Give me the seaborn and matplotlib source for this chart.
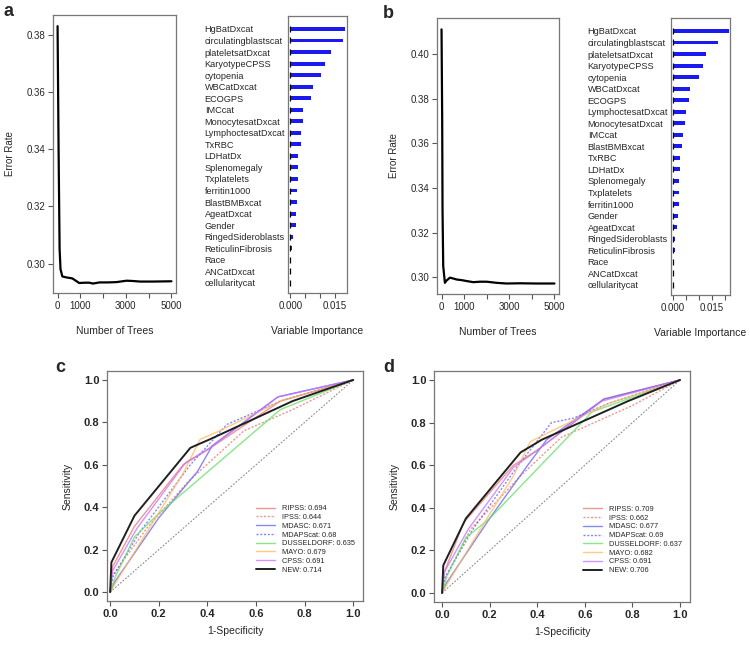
import numpy as np
import pandas as pd
import seaborn as sns
import matplotlib
matplotlib.use("Agg")
import matplotlib.pyplot as plt

sns.set_theme(style="white")
plt.rcParams['font.family'] = ['Liberation Sans', 'DejaVu Sans']

# ---------------- error rate vs number of trees ----------------
trees_a = [1, 45, 90, 130, 210, 356, 500, 650, 800, 950, 1200, 1400, 1550, 1840, 2200, 2580, 3030, 3300, 3620, 4200, 5000]
err_a = [0.383, 0.340, 0.305, 0.298, 0.2955, 0.2952, 0.2950, 0.2948, 0.2940, 0.2932, 0.2933, 0.2933, 0.2930, 0.2934,
         0.2934, 0.2935, 0.2940, 0.2939, 0.2937, 0.2937, 0.2938]
trees_b = [1, 30, 45, 75, 150, 220, 370, 500, 665, 900, 1110, 1405, 1700, 2000, 2440, 2885, 3475, 4200, 5000]
err_b = [0.411, 0.370, 0.330, 0.305, 0.2975, 0.2985, 0.2998, 0.2995, 0.2990, 0.2987, 0.2983, 0.2978, 0.2980, 0.2980,
         0.2975, 0.2972, 0.2973, 0.2972, 0.2972]

# ---------------- variable importance ----------------
vars_a = ["HgBatDxcat", "circulatingblastscat", "plateletsatDxcat", "KaryotypeCPSS", "cytopenia", "WBCatDxcat",
          "ECOGPS", "IMCcat", "MonocytesatDxcat", "LymphoctesatDxcat", "TxRBC", "LDHatDx", "Splenomegaly",
          "Txplatelets", "ferritin1000", "BlastBMBxcat", "AgeatDxcat", "Gender", "RingedSideroblasts",
          "ReticulinFibrosis", "Race", "ANCatDxcat", "cellularitycat"]
imp_a = [0.0183, 0.0176, 0.01356, 0.01156, 0.0102, 0.00756, 0.0069, 0.00433, 0.0042, 0.00367, 0.0036, 0.00267,
         0.00256, 0.00256, 0.0023, 0.0022, 0.0019, 0.0018, 0.0008, 0.0004, 0.0002, -0.0001, -0.00005]
vars_b = ["HgBatDxcat", "circulatingblastscat", "plateletsatDxcat", "KaryotypeCPSS", "cytopenia", "WBCatDxcat",
          "ECOGPS", "LymphoctesatDxcat", "MonocytesatDxcat", "IMCcat", "BlastBMBxcat", "TxRBC", "LDHatDx",
          "Splenomegaly", "Txplatelets", "ferritin1000", "Gender", "AgeatDxcat", "RingedSideroblasts",
          "ReticulinFibrosis", "Race", "ANCatDxcat", "cellularitycat"]
imp_b = [0.0214, 0.0173, 0.0128, 0.0115, 0.0099, 0.0067, 0.0060, 0.0050, 0.0044, 0.0040, 0.0036, 0.0027, 0.0026,
         0.0023, 0.0022, 0.0022, 0.0018, 0.0014, 0.0008, 0.0007, -0.0001, -0.0001, 0.00005]

# ---------------- ROC curves ----------------
models = ["RIPSS", "IPSS", "MDASC", "MDAPScat", "DUSSELDORF", "MAYO", "CPSS", "NEW"]
auc_c = ["0.694", "0.644", "0.671", "0.68", "0.635", "0.679", "0.691", "0.714"]
auc_d = ["0.709", "0.662", "0.677", "0.69", "0.637", "0.682", "0.691", "0.706"]
model_colors = ["#f07070", "#f07070", "#6060f0", "#6060f0", "#60e060", "#ffb860", "#c070ff", "#202020"]
model_dash = ["-", (0, (1.5, 1.2)), "-", (0, (1.5, 1.2)), "-", "-", "-", "-"]

fpr_c = {
    "RIPSS": [0, 0.01, 0.10, 0.30, 0.40, 0.70, 1],
    "IPSS": [0, 0.01, 0.15, 0.32, 0.55, 0.75, 1],
    "MDASC": [0, 0.02, 0.20, 0.36, 0.42, 0.69, 1],
    "MDAPScat": [0, 0.01, 0.12, 0.33, 0.48, 0.50, 0.70, 1],
    "DUSSELDORF": [0, 0.02, 0.10, 0.20, 0.70, 1],
    "MAYO": [0, 0.02, 0.16, 0.30, 0.37, 0.45, 0.70, 1],
    "CPSS": [0, 0.01, 0.11, 0.31, 0.41, 0.69, 1],
    "NEW": [0, 0.005, 0.10, 0.33, 0.41, 0.75, 1],
}
tpr_c = {
    "RIPSS": [0, 0.12, 0.31, 0.60, 0.67, 0.90, 1],
    "IPSS": [0, 0.08, 0.30, 0.52, 0.76, 0.86, 1],
    "MDASC": [0, 0.05, 0.35, 0.57, 0.69, 0.92, 1],
    "MDAPScat": [0, 0.07, 0.28, 0.60, 0.79, 0.80, 0.90, 1],
    "DUSSELDORF": [0, 0.07, 0.26, 0.37, 0.86, 1],
    "MAYO": [0, 0.04, 0.30, 0.56, 0.72, 0.76, 0.90, 1],
    "CPSS": [0, 0.10, 0.30, 0.61, 0.68, 0.92, 1],
    "NEW": [0, 0.14, 0.36, 0.68, 0.72, 0.90, 1],
}
fpr_d = {
    "RIPSS": [0, 0.01, 0.09, 0.30, 0.40, 0.68, 1],
    "IPSS": [0, 0.01, 0.12, 0.33, 0.50, 0.80, 1],
    "MDASC": [0, 0.02, 0.20, 0.36, 0.44, 0.68, 1],
    "MDAPScat": [0, 0.01, 0.13, 0.32, 0.46, 0.55, 0.70, 1],
    "DUSSELDORF": [0, 0.02, 0.10, 0.20, 0.63, 1],
    "MAYO": [0, 0.02, 0.15, 0.30, 0.37, 0.46, 0.70, 1],
    "CPSS": [0, 0.01, 0.11, 0.30, 0.40, 0.67, 1],
    "NEW": [0, 0.005, 0.10, 0.33, 0.42, 0.78, 1],
}
tpr_d = {
    "RIPSS": [0, 0.10, 0.33, 0.60, 0.67, 0.91, 1],
    "IPSS": [0, 0.06, 0.30, 0.55, 0.73, 0.88, 1],
    "MDASC": [0, 0.05, 0.35, 0.60, 0.72, 0.91, 1],
    "MDAPScat": [0, 0.07, 0.30, 0.60, 0.80, 0.82, 0.89, 1],
    "DUSSELDORF": [0, 0.08, 0.26, 0.35, 0.85, 1],
    "MAYO": [0, 0.04, 0.28, 0.55, 0.71, 0.76, 0.89, 1],
    "CPSS": [0, 0.10, 0.30, 0.59, 0.67, 0.90, 1],
    "NEW": [0, 0.13, 0.35, 0.66, 0.72, 0.90, 1],
}

fig = plt.figure(figsize=(7.5, 6.45), dpi=100)
W, H = 750.0, 645.0


def add_ax(x0, y0, x1, y1):
    return fig.add_axes([x0 / W, 1 - y1 / H, (x1 - x0) / W, (y1 - y0) / H])


def style_box(ax, fs):
    for s in ax.spines.values():
        s.set_color("#777777")
        s.set_linewidth(0.9)
    ax.tick_params(axis="both", direction="out", length=3.5, width=0.8, color="#555555",
                   labelsize=fs, pad=2, bottom=True, left=True)


def error_panel(ax, trees, err, ylim, yticks):
    df = pd.DataFrame({"trees": trees, "err": err})
    sns.lineplot(data=df, x="trees", y="err", ax=ax, color="black", lw=1.6, estimator=None)
    ax.set_xlim(-200, 5200)
    ax.set_ylim(*ylim)
    ax.set_xticks([0, 1000, 2000, 3000, 4000, 5000])
    ax.set_xticklabels(["0", "1000", "", "3000", "", "5000"])
    ax.set_yticks(yticks)
    ax.set_yticklabels([f"{v:.2f}" for v in yticks])
    style_box(ax, 7)
    ax.set_xlabel("Number of Trees", fontsize=7.5, labelpad=11)
    ax.set_ylabel("Error Rate", fontsize=7, labelpad=8)


def imp_panel(ax, names, vals, xlim, xticks):
    df = pd.DataFrame({"var": names, "imp": vals})
    cols = ["#1a1af0" if v > 0 else "#e02020" for v in vals]
    sns.barplot(data=df, y="var", x="imp", hue="var", palette=cols, legend=False, orient="h",
                width=0.34, ax=ax, linewidth=0, saturation=1)
    ax.scatter([0] * len(names), range(len(names)), marker="|", s=18, color="black", lw=0.9, zorder=5)
    ax.set_xlim(*xlim)
    ax.set_ylim(len(names) - 0.12, -1.12)
    ax.set_xticks(xticks)
    ax.set_xticklabels(["0.000" if t == 0 else ("0.015" if abs(t - 0.015) < 1e-9 else "") for t in xticks])
    style_box(ax, 7)
    ax.tick_params(axis="y", length=0, pad=60)
    for lab in ax.get_yticklabels():
        lab.set_ha("left")
        lab.set_fontsize(6.6)
    ax.set_ylabel("")
    ax.set_xlabel("Variable Importance", fontsize=7.5, labelpad=11)


def roc_panel(ax, fpr, tpr, aucs, xlim):
    ax.plot([0, 1], [0, 1], color="#888888", lw=0.8, ls=(0, (1.5, 1.5)))
    for m, col, ls, auc in zip(models, model_colors, model_dash, aucs):
        df = pd.DataFrame({"fpr": fpr[m], "tpr": tpr[m]})
        sns.lineplot(data=df, x="fpr", y="tpr", ax=ax, color=col, lw=1.4 if m == "NEW" else 1.0,
                     alpha=1.0 if m == "NEW" else 0.75, linestyle=ls, estimator=None, sort=False,
                     label=f"{m}: {auc}")
    ax.set_xlim(*xlim)
    ax.set_ylim(-0.042, 1.042)
    ticks = [0, 0.2, 0.4, 0.6, 0.8, 1.0]
    ax.set_xticks(ticks)
    ax.set_yticks(ticks)
    ax.set_xticklabels([f"{t:.1f}" for t in ticks], fontweight="bold")
    ax.set_yticklabels([f"{t:.1f}" for t in ticks], fontweight="bold")
    style_box(ax, 8)
    ax.set_xlabel("1-Specificity", fontsize=7.5, labelpad=5)
    ax.set_ylabel("Sensitivity", fontsize=7.5, labelpad=8)
    ax.legend(loc="upper left", bbox_to_anchor=(0.57, 0.43), frameon=False, fontsize=5.3,
              handlelength=2.6, handletextpad=1.0, labelspacing=0.22, borderaxespad=0)


ax_a = add_ax(53, 15, 176, 293)
error_panel(ax_a, trees_a, err_a, (0.2897, 0.3869), [0.30, 0.32, 0.34, 0.36, 0.38])
ax_ai = add_ax(288, 16, 347, 293)
imp_panel(ax_ai, vars_a, imp_a, (-0.0008, 0.0190), [0, 0.005, 0.010, 0.015])

ax_b = add_ax(437, 18, 559, 294)
error_panel(ax_b, trees_b, err_b, (0.2925, 0.4161), [0.30, 0.32, 0.34, 0.36, 0.38, 0.40])
ax_bi = add_ax(671, 18, 730, 295)
imp_panel(ax_bi, vars_b, imp_b, (-0.0008, 0.0219), [0, 0.005, 0.010, 0.015, 0.020])

ax_c = add_ax(107, 371, 363, 601)
roc_panel(ax_c, fpr_c, tpr_c, auc_c, (-0.013, 1.04))
ax_d = add_ax(434, 371, 690, 602)
roc_panel(ax_d, fpr_d, tpr_d, auc_d, (-0.034, 1.042))

for letter, x, y in [("a", 4, 16), ("b", 383, 18), ("c", 55, 372), ("d", 383, 372)]:
    fig.text(x / W, 1 - y / H, letter, fontsize=13, fontweight="bold", ha="left", va="baseline")

fig.savefig("out.png", dpi=100, facecolor="white")
